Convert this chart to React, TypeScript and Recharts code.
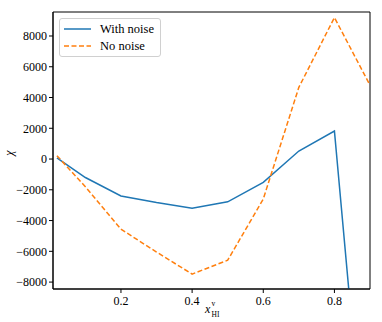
import { LineChart, Line, XAxis, YAxis, Legend, Label, ReferenceArea } from "recharts";

const xValues = [0.02, 0.1, 0.2, 0.3, 0.4, 0.5, 0.6, 0.7, 0.8, 0.9];
const withNoise = [80, -1200, -2400, -2830, -3200, -2780, -1520, 520, 1820, -23700];
const noNoise = [220, -1800, -4560, -6050, -7480, -6580, -2600, 4660, 9200, 4800];

const xTicks = [0.2, 0.4, 0.6, 0.8];
const yTicks = [-8000, -6000, -4000, -2000, 0, 2000, 4000, 6000, 8000];
const xDomain = [0.009, 0.9];
const yDomain = [-8450, 9560];

const data = xValues.map((x, i) => ({ x, noise: withNoise[i], clean: noNoise[i] }));

const BLUE = "#1f77b4";
const ORANGE = "#ff7f0e";
const FONT = "Liberation Serif";

const fmtY = (v: number) => (v < 0 ? "\u2212" + Math.abs(v) : String(v));

function XTick(props: any) {
    const { x, y, payload } = props;
    return (
        <text x={x} y={y} dy="0.71em" textAnchor="middle" fontFamily={FONT} fontSize={12} fill="#000">
            {String(payload.value)}
        </text>
    );
}

function YTick(props: any) {
    const { x, y, payload } = props;
    return (
        <text x={x} y={y} dy="0.36em" textAnchor="end" fontFamily={FONT} fontSize={12} fill="#000">
            {fmtY(payload.value)}
        </text>
    );
}

function LegendBox() {
    const rows = [
        { label: "With noise", color: BLUE, dash: undefined },
        { label: "No noise", color: ORANGE, dash: "5 2.5" },
    ];
    return (
        <div
            style={{
                border: "1px solid #d0d0d0",
                borderRadius: 3,
                background: "rgba(255,255,255,0.8)",
                padding: "2px 6px 2px 4px",
                fontFamily: FONT,
                fontSize: 12.5,
                lineHeight: "16.5px",
            }}
        >
            {rows.map((r) => (
                <div key={r.label} style={{ display: "flex", alignItems: "center" }}>
                    <svg width={27} height={10} style={{ marginRight: 9 }}>
                        <line x1={0} y1={5} x2={27} y2={5} stroke={r.color} strokeWidth={1.5} strokeDasharray={r.dash} />
                    </svg>
                    <span>{r.label}</span>
                </div>
            ))}
        </div>
    );
}

export default function App() {
    return (
        <div style={{ position: "absolute", left: 0, top: 0, background: "#fff", fontFamily: FONT }}>
            <LineChart width={382} height={322} data={data} margin={{ top: 12, right: 12, left: 0, bottom: 0 }}>
                <XAxis
                    dataKey="x"
                    type="number"
                    domain={xDomain}
                    ticks={xTicks}
                    allowDataOverflow
                    height={33}
                    tickSize={4}
                    tickMargin={3}
                    stroke="#000"
                    tick={<XTick />}
                >
                    <Label
                        content={() => (
                            <g fill="#000" fontFamily={FONT}>
                                <text x={205} y={313} fontSize={12} fontStyle="italic">x</text>
                                <text x={211.5} y={306} fontSize={7.5}>v</text>
                                <text x={211.5} y={317} fontSize={7.5}>HI</text>
                            </g>
                        )}
                    />
                </XAxis>
                <YAxis
                    type="number"
                    domain={yDomain}
                    ticks={yTicks}
                    allowDataOverflow
                    width={53}
                    tickSize={4}
                    tickMargin={2}
                    stroke="#000"
                    tick={<YTick />}
                >
                    <Label
                        content={() => (
                            <text
                                x={9}
                                y={153}
                                transform="rotate(-90 9 153)"
                                textAnchor="middle"
                                dominantBaseline="central"
                                fontFamily={FONT}
                                fontSize={12}
                                fontStyle="italic"
                                fill="#000"
                            >
                                χ
                            </text>
                        )}
                    />
                </YAxis>
                <ReferenceArea
                    x1={xDomain[0]}
                    x2={xDomain[1]}
                    y1={yDomain[0]}
                    y2={yDomain[1]}
                    fill="none"
                    stroke="#000"
                    strokeOpacity={1}
                    strokeWidth={1}
                />
                <Legend
                    layout="horizontal"
                    verticalAlign="middle"
                    align="center"
                    wrapperStyle={{ left: 59, top: 18, width: "auto", height: "auto" }}
                    content={() => <LegendBox />}
                />
                <Line
                    dataKey="noise"
                    name="With noise"
                    stroke={BLUE}
                    strokeWidth={1.5}
                    dot={false}
                    isAnimationActive={false}
                />
                <Line
                    dataKey="clean"
                    name="No noise"
                    stroke={ORANGE}
                    strokeWidth={1.5}
                    strokeDasharray="5 2.5"
                    dot={false}
                    isAnimationActive={false}
                />
            </LineChart>
        </div>
    );
}
